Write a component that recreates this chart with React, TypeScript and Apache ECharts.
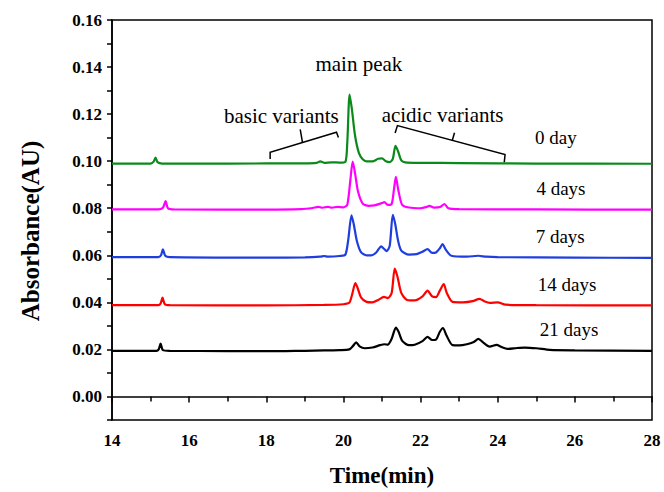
import React, { useEffect, useRef } from "react";
import * as echarts from "echarts";

// ---- data (time in min, absorbance in AU) ----
const day0Time = [14.0, 15.0, 15.08, 15.13, 15.18, 15.3, 17.0, 19.0, 19.3, 19.4, 19.5, 19.7, 19.9, 20.05, 20.1, 20.16, 20.22, 20.3, 20.4, 20.5, 20.6, 20.75, 20.9, 21.0, 21.1, 21.2, 21.28, 21.35, 21.42, 21.5, 21.6, 22.0, 23.0, 25.0, 28.0];
const day0Abs = [0.099, 0.099, 0.0998, 0.1015, 0.0996, 0.099, 0.099, 0.0991, 0.0993, 0.0999, 0.0993, 0.0995, 0.0994, 0.0997, 0.108, 0.1283, 0.122, 0.111, 0.1035, 0.1008, 0.0999, 0.0999, 0.101, 0.1012, 0.1, 0.0996, 0.101, 0.1065, 0.104, 0.1003, 0.0995, 0.0993, 0.0992, 0.099, 0.0989];

const day4Time = [14.0, 15.2, 15.32, 15.39, 15.45, 15.6, 18.0, 18.9, 19.2, 19.35, 19.45, 19.6, 19.7, 19.85, 20.0, 20.1, 20.18, 20.24, 20.3, 20.38, 20.5, 20.65, 20.8, 21.0, 21.06, 21.15, 21.25, 21.31, 21.36, 21.42, 21.52, 21.7, 22.0, 22.15, 22.23, 22.35, 22.5, 22.62, 22.72, 23.0, 25.0, 28.0];
const day4Abs = [0.0795, 0.0795, 0.0802, 0.083, 0.08, 0.0795, 0.0794, 0.0796, 0.0801, 0.0806, 0.0802, 0.0806, 0.0802, 0.0806, 0.0804, 0.0815, 0.092, 0.0998, 0.095, 0.087, 0.082, 0.081, 0.0812, 0.0822, 0.0826, 0.0814, 0.0818, 0.088, 0.0933, 0.088, 0.0815, 0.0803, 0.08, 0.0805, 0.081, 0.0803, 0.0805, 0.0818, 0.08, 0.0796, 0.0795, 0.0794];

const day7Time = [14.0, 15.2, 15.27, 15.32, 15.38, 15.5, 18.0, 19.0, 19.4, 19.5, 19.6, 19.9, 20.05, 20.12, 20.21, 20.27, 20.35, 20.46, 20.6, 20.72, 20.85, 20.98, 21.05, 21.12, 21.2, 21.28, 21.34, 21.42, 21.5, 21.7, 21.9, 22.05, 22.18, 22.3, 22.4, 22.5, 22.57, 22.65, 22.8, 23.2, 23.5, 23.7, 24.0, 26.0, 28.0];
const day7Abs = [0.0592, 0.0592, 0.06, 0.0625, 0.0598, 0.0592, 0.059, 0.0591, 0.0594, 0.0597, 0.0594, 0.0597, 0.0603, 0.066, 0.077, 0.073, 0.066, 0.0612, 0.06, 0.06, 0.0612, 0.0638, 0.0628, 0.0618, 0.064, 0.0772, 0.0735, 0.066, 0.062, 0.0603, 0.0605, 0.0615, 0.0626, 0.061, 0.0612, 0.063, 0.0648, 0.0625, 0.0598, 0.0594, 0.0598, 0.0594, 0.0592, 0.059, 0.0589];

const day14Time = [14.0, 15.2, 15.26, 15.31, 15.37, 15.5, 18.0, 19.5, 20.0, 20.15, 20.22, 20.31, 20.37, 20.46, 20.6, 20.75, 20.9, 21.05, 21.15, 21.25, 21.33, 21.4, 21.5, 21.65, 21.85, 22.05, 22.18, 22.3, 22.4, 22.5, 22.6, 22.68, 22.83, 23.1, 23.35, 23.53, 23.65, 23.8, 24.0, 24.2, 25.0, 28.0];
const day14Abs = [0.0388, 0.0388, 0.0395, 0.042, 0.0392, 0.0388, 0.0387, 0.0389, 0.0392, 0.0398, 0.043, 0.0482, 0.046, 0.042, 0.0402, 0.04, 0.041, 0.0423, 0.0418, 0.044, 0.0543, 0.051, 0.044, 0.041, 0.0408, 0.0425, 0.045, 0.0425, 0.0422, 0.045, 0.0478, 0.044, 0.0402, 0.04, 0.0405, 0.0415, 0.0405, 0.0398, 0.04, 0.039, 0.0388, 0.0387];

const day21Time = [14.0, 15.15, 15.21, 15.26, 15.32, 15.5, 17.0, 18.5, 19.0, 19.5, 19.9, 20.15, 20.25, 20.33, 20.42, 20.55, 20.75, 20.95, 21.06, 21.15, 21.25, 21.36, 21.43, 21.53, 21.7, 21.85, 22.05, 22.18, 22.3, 22.4, 22.5, 22.58, 22.67, 22.83, 23.0, 23.2, 23.38, 23.5, 23.62, 23.79, 23.97, 24.1, 24.25, 24.5, 24.7, 25.0, 25.35, 26.0, 28.0];
const day21Abs = [0.0194, 0.0194, 0.02, 0.0225, 0.0197, 0.0194, 0.0193, 0.0193, 0.0194, 0.0196, 0.0197, 0.02, 0.0215, 0.023, 0.0213, 0.0205, 0.0208, 0.0218, 0.0222, 0.022, 0.0245, 0.0293, 0.0275, 0.0235, 0.0218, 0.022, 0.0235, 0.0253, 0.024, 0.0242, 0.0275, 0.0291, 0.026, 0.0218, 0.0217, 0.0222, 0.0232, 0.0245, 0.023, 0.0212, 0.0219, 0.021, 0.0202, 0.0206, 0.0208, 0.0205, 0.0198, 0.0196, 0.0194];

const seriesNames = ["0 day", "4 days", "7 days", "14 days", "21 days"];
const seriesColors = ["#0a8a1a", "#ff00ff", "#1e3ede", "#ff0000", "#000000"];
const seriesTimes = [day0Time, day4Time, day7Time, day14Time, day21Time];
const seriesAbs = [day0Abs, day4Abs, day7Abs, day14Abs, day21Abs];

// label anchors (data coordinates)
const dayLabelPos: [number, number][] = [[25.51, 0.11], [25.64, 0.0883], [25.62, 0.0679], [25.8, 0.0475], [25.85, 0.0284]];
const annotationTexts = ["main peak", "basic variants", "acidic variants"];
const annotationPos: [number, number][] = [[20.4, 0.1415], [18.39, 0.1191], [22.57, 0.1198]];
const basicBracket: [number, number][] = [[18.1, 0.1009], [18.1, 0.1038], [19.82, 0.1123], [19.87, 0.1101]];
const basicTick: [number, number][] = [[18.94, 0.1078], [18.88, 0.1135]];
const acidicBracket: [number, number][] = [[21.34, 0.112], [21.4, 0.1151], [24.19, 0.1028], [24.17, 0.0995]];
const acidicTick: [number, number][] = [[22.82, 0.1087], [22.88, 0.1121]];
const yAxisTitle = "Absorbance(AU)";

const FONT = "Liberation Serif";

export default function App() {
  const ref = useRef<HTMLDivElement>(null);
  useEffect(() => {
    document.body.style.margin = "0";
    if (!ref.current) return;
    const chart = echarts.init(ref.current, null, { renderer: "svg" });
    const option: any = {
      animation: false,
      backgroundColor: "#ffffff",
      grid: {
        left: 112,
        right: 12,
        top: 20,
        bottom: 71,
        show: true,
        borderColor: "#000",
        borderWidth: 1.5,
        backgroundColor: "transparent",
      },
      xAxis: {
        type: "value",
        min: 14,
        max: 28,
        interval: 2,
        name: "Time(min)",
        nameLocation: "middle",
        nameGap: 44,
        nameTextStyle: { fontFamily: FONT, fontWeight: "bold", fontSize: 23, color: "#000" },
        axisLine: { show: true, lineStyle: { color: "#000", width: 1.5 } },
        axisTick: { show: true, length: 6, lineStyle: { color: "#000", width: 1.5 } },
        minorTick: { show: true, splitNumber: 2, length: 5, lineStyle: { color: "#000", width: 1.5 } },
        axisLabel: { fontFamily: FONT, fontWeight: "bold", fontSize: 17, color: "#000", margin: 12 },
        splitLine: { show: false },
      },
      yAxis: {
        type: "value",
        min: -0.01,
        max: 0.16,
        interval: 0.01,
        axisLine: { show: true, lineStyle: { color: "#000", width: 1.5 } },
        axisTick: { show: true, length: 5, lineStyle: { color: "#000", width: 1.5 } },
        axisLabel: {
          fontFamily: FONT,
          fontWeight: "bold",
          fontSize: 17,
          color: "#000",
          margin: 10,
          formatter: (v: number) => {
            const k = Math.round(v * 100);
            return k >= 0 && k % 2 === 0 ? (k / 100).toFixed(2) : "";
          },
        },
        splitLine: { show: false },
      },
      series: seriesNames.map((name, i) => ({
        name,
        type: "line",
        showSymbol: false,
        smooth: 0.25,
        lineStyle: { color: seriesColors[i], width: 2.2 },
        data: seriesTimes[i].map((t, j) => [t, seriesAbs[i][j]]),
      })),
    };
    chart.setOption(option);

    const px = (p: [number, number]) => chart.convertToPixel({ gridIndex: 0 }, p) as number[];
    const textStyle = (size: number) => ({ fontFamily: FONT, fontSize: size, fill: "#000", align: "center", verticalAlign: "middle" });
    const graphics: any[] = [];
    graphics.push({
      type: "text",
      x: 30,
      y: 231,
      rotation: Math.PI / 2,
      style: { text: yAxisTitle, fontFamily: FONT, fontWeight: "bold", fontSize: 25, fill: "#000", align: "center", verticalAlign: "middle" },
    });
    dayLabelPos.forEach((p, i) => {
      const [x, y] = px(p);
      graphics.push({ type: "text", x, y, style: { text: seriesNames[i], ...textStyle(19) } });
    });
    annotationPos.forEach((p, i) => {
      const [x, y] = px(p);
      graphics.push({ type: "text", x, y, style: { text: annotationTexts[i], ...textStyle(21) } });
    });
    [basicBracket, basicTick, acidicBracket, acidicTick].forEach((pts) => {
      graphics.push({
        type: "polyline",
        shape: { points: pts.map((p) => px(p)) },
        style: { stroke: "#000", lineWidth: 1.5, fill: "none" },
      });
    });
    chart.setOption({ graphic: graphics });

    return () => chart.dispose();
  }, []);
  return <div ref={ref} style={{ width: 664, height: 492 }} />;
}
